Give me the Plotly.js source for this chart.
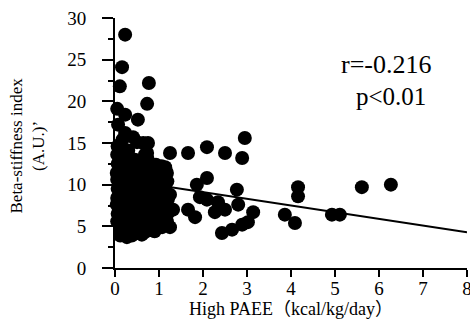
<!DOCTYPE html>
<html>
<head>
<meta charset="utf-8">
<script src="https://cdn.plot.ly/plotly-3.0.1.min.js"></script>
<style>html,body{margin:0;padding:0;background:#fff;}</style>
</head>
<body>
<div id="chart" style="width:470px;height:327px;"></div>
<script>
// Scatter points: High PAEE (kcal/kg/day) vs Beta-stiffness index (A.U.)
const paeeX = [
  0.23,0.16,0.11,0.77,0.73,0.05,0.23,0.52,0.07,0.23,0.50,0.75,0.68,1.14,1.18,0.41,0.64,0.73,0.11,
  1.25,1.66,2.09,2.50,2.89,2.95,
  2.09,1.86,2.77,1.93,2.09,2.34,2.27,2.50,2.80,1.66,1.82,1.32,1.25,1.25,1.07,1.20,3.14,2.43,2.66,2.89,3.02,
  4.16,4.16,5.61,6.27,3.86,4.09,4.93,5.11,
  0.27,0.61,
  0.05,0.06,0.04,0.05,0.06,0.05,0.04,0.06,0.05,0.06,
  0.15,0.17,0.14,0.16,0.15,0.13,0.16,0.15,0.14,0.17,
  0.30,0.31,0.29,0.32,0.30,0.28,0.31,0.30,0.29,0.32,0.30,
  0.45,0.44,0.46,0.45,0.47,0.44,0.45,0.46,0.43,0.45,
  0.60,0.61,0.59,0.62,0.60,0.58,0.61,0.60,0.62,0.59,
  0.75,0.76,0.74,0.77,0.75,0.73,0.76,0.75,0.74,
  0.90,0.91,0.89,0.92,0.90,0.88,0.91,0.90,0.93,
  1.05,1.06,1.04,1.07,1.05,1.03,1.06,1.08,
  1.18,1.17,1.20,1.16,1.19,1.15,
  0.38,0.52,0.68,0.83,0.97,0.22,0.12
];
const stiffY = [
  28.0,24.1,21.8,22.2,19.7,19.1,18.4,17.8,17.2,16.2,15.1,15.0,13.6,12.1,11.4,15.7,15.0,13.8,14.8,
  13.8,13.8,14.5,13.8,13.2,15.6,
  10.8,10.0,9.4,8.5,8.2,7.9,6.7,7.0,7.6,7.0,6.1,7.0,8.8,4.9,4.9,6.6,6.7,4.2,4.6,5.2,5.5,
  9.7,8.6,9.7,10.0,6.4,5.4,6.4,6.4,
  3.7,4.0,
  5.6,6.5,7.6,8.4,9.5,10.6,11.4,12.5,13.6,14.6,
  4.6,5.4,7.1,8.0,9.1,10.1,11.0,12.1,13.1,15.4,
  4.5,5.6,6.4,7.5,8.6,9.4,10.5,11.6,12.4,13.3,14.1,
  4.2,5.0,6.1,7.0,8.1,9.0,10.1,11.0,12.1,13.0,
  4.8,6.0,7.1,8.0,9.1,10.0,11.1,12.0,13.0,5.4,
  5.2,6.3,7.3,8.3,9.3,10.3,11.3,12.3,13.1,
  4.4,5.0,6.1,7.0,8.1,9.0,10.1,11.0,12.4,
  5.5,6.8,8.0,9.3,10.3,11.0,12.2,7.4,
  5.6,6.3,8.2,9.0,10.4,11.8,
  3.9,4.5,4.3,4.6,5.8,4.2,3.9
];
// Regression line endpoints
const fitX = [0, 8];
const fitY = [10.7, 4.3];
const xTicks = [0,1,2,3,4,5,6,7,8];
const yTicks = [0,5,10,15,20,25,30];
const statR = "r=-0.216";
const statP = "p<0.01";

const serif = "'Liberation Serif', 'Times New Roman', 'Noto Sans CJK JP', serif";

const traces = [
  {x: paeeX, y: stiffY, type: 'scatter', mode: 'markers',
   marker: {color: '#000', size: 14}, cliponaxis: false, hoverinfo: 'none'},
  {x: fitX, y: fitY, type: 'scatter', mode: 'lines',
   line: {color: '#000', width: 2}, hoverinfo: 'none'}
];

const layout = {
  width: 470, height: 327,
  margin: {l: 115, r: 3, t: 18, b: 59},
  paper_bgcolor: '#fff', plot_bgcolor: '#fff',
  showlegend: false,
  font: {family: serif, color: '#000', size: 17},
  xaxis: {
    range: [0, 8], tickvals: xTicks, ticktext: xTicks.map(String),
    showgrid: false, zeroline: false, showline: true, linecolor: '#000', linewidth: 2,
    ticks: 'outside', ticklen: 7, tickwidth: 2, tickcolor: '#000',
    ticklabeloverflow: 'allow', ticklabelstandoff: -5,
    tickfont: {family: serif, size: 19, color: '#000'},
    title: {text: 'High PAEE（kcal/kg/day）', font: {family: serif, size: 18, color: '#000'}, standoff: 0}
  },
  yaxis: {
    range: [0, 30], tickvals: yTicks, ticktext: yTicks.map(String),
    showgrid: false, zeroline: false, showline: true, linecolor: '#000', linewidth: 2,
    ticks: 'outside', ticklen: 11, tickwidth: 2, tickcolor: '#000',
    ticklabelstandoff: 12,
    tickfont: {family: serif, size: 19, color: '#000'},
    minor: {dtick: 2.5, tick0: 0, ticks: 'outside', ticklen: 5, tickwidth: 2, tickcolor: '#000', showgrid: false}
  },
  annotations: [
    {xref: 'paper', yref: 'paper', x: -0.25, y: 0.49, xanchor: 'center', yanchor: 'middle',
     text: 'Beta-stiffness index<br>(A.U.)’', textangle: -90, showarrow: false,
     font: {family: serif, size: 17, color: '#000'}},
    {xref: 'paper', yref: 'paper', x: (386-115)/352, y: (268-64)/250, xanchor: 'center', yanchor: 'middle',
     text: statR, showarrow: false, font: {family: serif, size: 26, color: '#000'}},
    {xref: 'paper', yref: 'paper', x: (391-115)/352, y: (268-97)/250, xanchor: 'center', yanchor: 'middle',
     text: statP, showarrow: false, font: {family: serif, size: 25, color: '#000'}}
  ]
};

Plotly.newPlot('chart', traces, layout, {staticPlot: true, displayModeBar: false});
</script>
</body>
</html>
